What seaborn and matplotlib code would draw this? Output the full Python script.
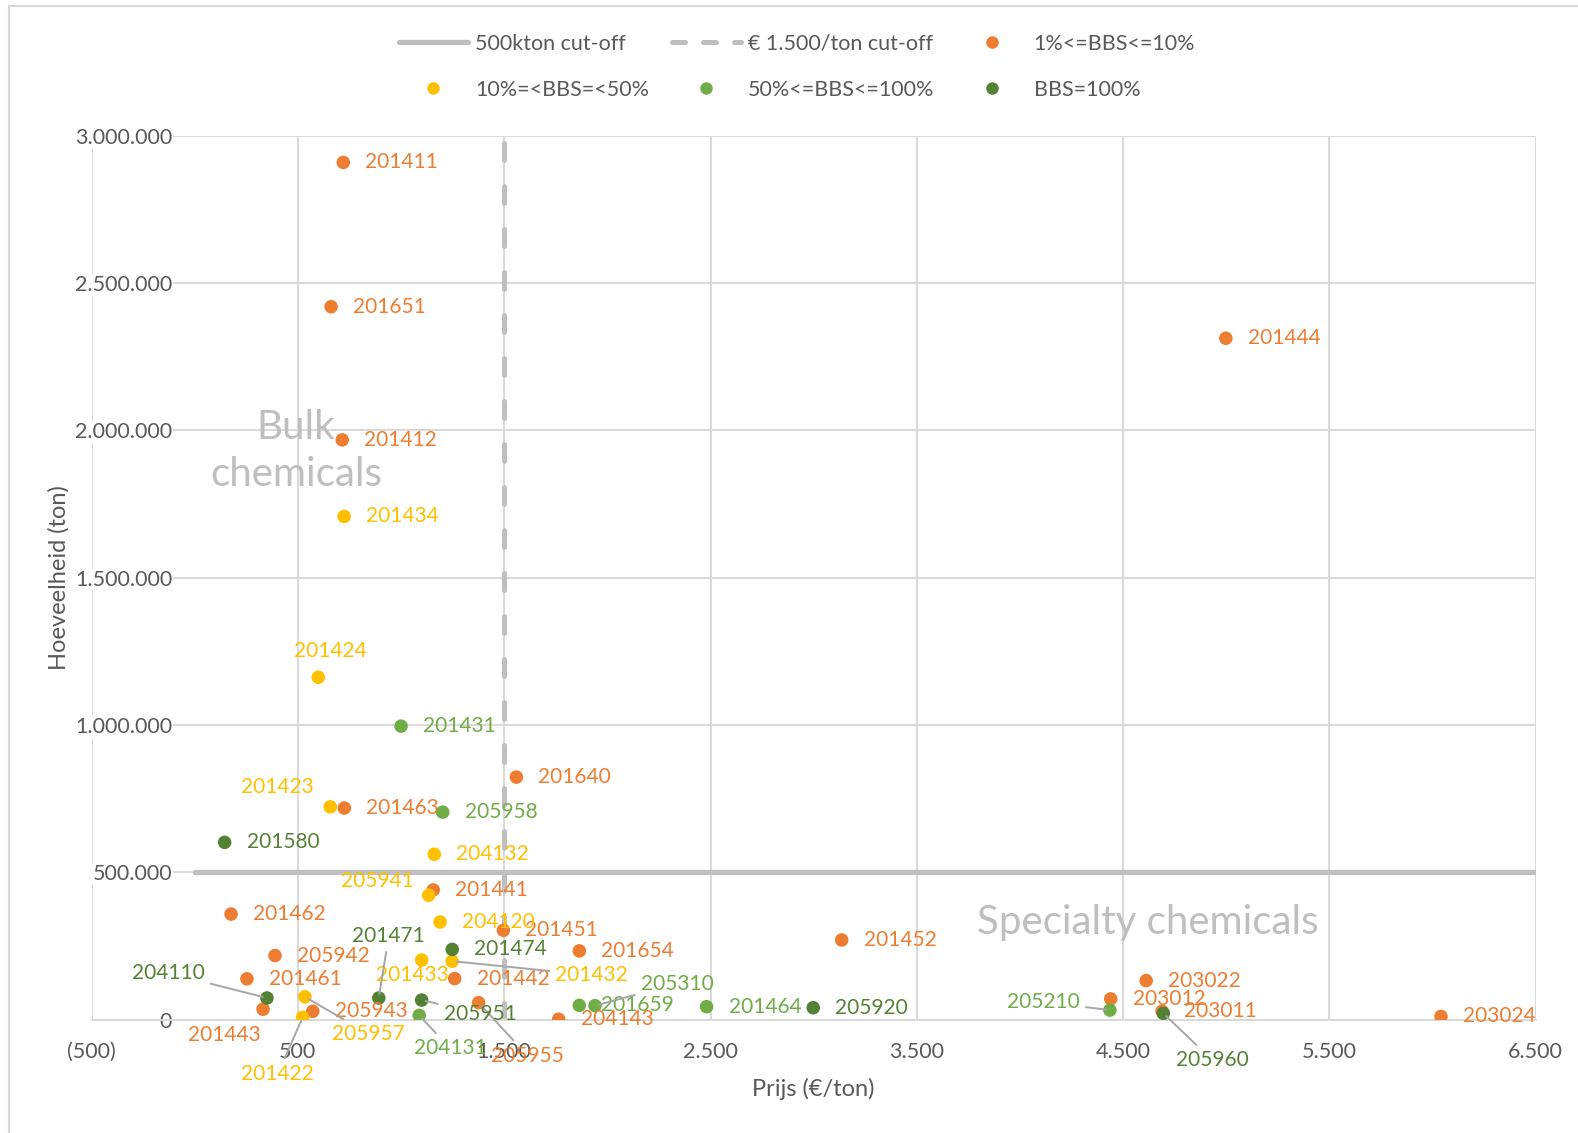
import numpy as np
import pandas as pd
import matplotlib
matplotlib.use("Agg")
import matplotlib.pyplot as plt
from matplotlib.lines import Line2D
from matplotlib.patches import Rectangle
import seaborn as sns

# ---------------- data ----------------
orange_labels = ["201411", "201651", "201412", "201444", "201640", "201463", "201441",
                 "201462", "205942", "201461", "201443", "205943", "201442", "205955",
                 "201451", "201654", "204143", "201452", "203022", "203012", "203011",
                 "203024"]
orange_price = [720, 661, 715, 4998, 1559, 725, 1156, 176, 389, 253, 331, 572, 1260,
                1376, 1496, 1864, 1764, 3136, 4612, 4440, 4689, 6041]
orange_qty = [2910000, 2420000, 1968000, 2313000, 823000, 718000, 440000, 358000,
              217000, 138000, 35000, 28000, 139000, 57000, 303000, 233000, 1000,
              270000, 132000, 70000, 28000, 10500]

yellow_labels = ["201434", "201424", "201423", "204132", "205941", "204120", "201433",
                 "201432", "205957", "201422"]
yellow_price = [724, 599, 657, 1161, 1134, 1189, 1100, 1248, 534, 523]
yellow_qty = [1708000, 1162000, 722000, 561000, 422000, 331000, 202000, 198000,
              77000, 7500]

green_labels = ["201431", "205958", "204131", "201659", "205310", "201464", "205210"]
green_price = [1000, 1202, 1088, 1864, 1940, 2481, 4436]
green_qty = [996000, 704000, 14000, 48000, 47000, 43500, 32000]

dgreen_labels = ["201580", "201474", "201471", "204110", "205951", "205920", "205960"]
dgreen_price = [145, 1248, 892, 350, 1100, 2998, 4695]
dgreen_qty = [601500, 238000, 73000, 73000, 66000, 40000, 21000]

series_names = ["1%<=BBS<=10%", "10%=<BBS=<50%", "50%<=BBS<=100%", "BBS=100%"]
series_colors = ["#ED7D31", "#FFC000", "#70AD47", "#548235"]

qty_cutoff = 500000
price_cutoff = 1500

x_ticks = [-500, 500, 1500, 2500, 3500, 4500, 5500, 6500]
y_ticks = [0, 500000, 1000000, 1500000, 2000000, 2500000, 3000000]

# label placement: offset in pixels (dx, dy image-down), ha, leader
label_style = {
    "201443": (-39, 26, "center", False),
    "205955": (49, 53, "center", True),
    "201424": (12, -26, "center", False),
    "201423": (-53, -20, "center", False),
    "205941": (-51, -14, "center", False),
    "201433": (-9, 15, "center", False),
    "201432": (103, 14, "left", True),
    "205957": (27, 37, "left", True),
    "201422": (-25, 57, "center", True),
    "204131": (31, 33, "center", True),
    "205310": (46, -22, "left", True),
    "205210": (-30, -8, "right", True),
    "201471": (10, -62, "center", True),
    "204110": (-62, -25, "right", True),
    "205951": (22, 14, "left", True),
    "205960": (49, 47, "center", True),
}

frames = []
for name, labs, px, qy in [
    (series_names[0], orange_labels, orange_price, orange_qty),
    (series_names[1], yellow_labels, yellow_price, yellow_qty),
    (series_names[2], green_labels, green_price, green_qty),
    (series_names[3], dgreen_labels, dgreen_price, dgreen_qty),
]:
    frames.append(pd.DataFrame({"label": labs, "price": px, "qty": qy, "series": name}))
df = pd.concat(frames, ignore_index=True)
palette = dict(zip(series_names, series_colors))

# ---------------- figure ----------------
sns.set_theme(style="white")
plt.rcParams["font.family"] = ["Lato", "DejaVu Sans"]

W, H = 1578, 1133
fig = plt.figure(figsize=(W / 100, H / 100), dpi=100)
ax = fig.add_axes([91.6 / W, 1 - 1019.5 / H, (1535.7 - 91.6) / W, (1019.5 - 135.9) / H])

grid_c = "#D9D9D9"
text_c = "#595959"
cut_c = "#BFBFBF"

# cut-off lines
ax.plot([0, 6500], [qty_cutoff, qty_cutoff], color=cut_c, lw=3.8,
        solid_capstyle="round", zorder=2)
ax.plot([price_cutoff, price_cutoff], [0, 3000000], color=cut_c, lw=3.6,
        dashes=(3.4, 5.2), dash_capstyle="round", zorder=2)

sns.scatterplot(data=df, x="price", y="qty", hue="series", palette=palette,
                s=95, edgecolor="none", legend=False, ax=ax, zorder=3)

# data labels
for _, r in df.iterrows():
    c = palette[r["series"]]
    dx, dy, ha, leader = label_style.get(r["label"], (22, 0, "left", False))
    kw = {}
    if leader:
        kw["arrowprops"] = dict(arrowstyle="-", color="#A6A6A6", lw=1.4,
                                shrinkA=2, shrinkB=3)
    ax.annotate(r["label"], (r["price"], r["qty"]), xytext=(dx, -dy),
                textcoords="offset pixels", ha=ha, va="center", fontsize=15,
                color=c, zorder=4, **kw)

# region texts
ax.text(490, 1930000, "Bulk\nchemicals", ha="center", va="center", fontsize=29,
        color=cut_c, linespacing=1.35, zorder=1.5)
ax.text(4622, 328000, "Specialty chemicals", ha="center", va="center", fontsize=29,
        color=cut_c, zorder=1.5)

# axes
ax.set_xlim(-500, 6500)
ax.set_ylim(0, 3000000)
ax.set_xticks(x_ticks)
ax.set_yticks(y_ticks)


def fmt_x(v):
    s = f"{abs(int(v)):,}".replace(",", ".")
    return f"({s})" if v < 0 else s


ax.set_xticklabels([fmt_x(v) for v in x_ticks])
ax.set_yticklabels([f"{int(v):,}".replace(",", ".") for v in y_ticks])
ax.grid(True, color=grid_c, lw=1.4)
ax.set_axisbelow(True)
for s in ["top", "right", "left"]:
    ax.spines[s].set_visible(False)
ax.spines["bottom"].set_color(grid_c)
ax.spines["bottom"].set_linewidth(1.4)
ax.tick_params(axis="x", length=0, pad=16, labelsize=15.5, labelcolor=text_c)
ax.tick_params(axis="y", length=0, pad=-58, labelsize=15.5, labelcolor=text_c)
for lbl in ax.get_yticklabels():
    lbl.set_bbox(dict(facecolor="white", edgecolor="none", pad=0.5))
    lbl.set_zorder(5)

ax.set_xlabel("Prijs (€/ton)", fontsize=17, color=text_c, labelpad=12)
ax.set_ylabel("Hoeveelheid (ton)", fontsize=17, color=text_c, labelpad=4)

# legend (column-major fill)
h_solid = Line2D([], [], color=cut_c, lw=3.8, solid_capstyle="round")
h_dash = Line2D([], [], color=cut_c, lw=3.6, dashes=(2.6, 3.6), dash_capstyle="round")
h_pts = [Line2D([], [], ls="none", marker="o", markersize=9, color=c,
                markeredgecolor="none") for c in series_colors]
handles = [h_solid, h_pts[1], h_dash, h_pts[2], h_pts[0], h_pts[3]]
labels = ["500kton cut-off", series_names[1], "€ 1.500/ton cut-off", series_names[2],
          series_names[0], series_names[3]]
leg = fig.legend(handles, labels, loc="center", bbox_to_anchor=(0.505, 0.941), ncol=3,
                 frameon=False, fontsize=15.5, handlelength=3.2, handletextpad=0.35,
                 columnspacing=1.05, labelspacing=1.2)
for t in leg.get_texts():
    t.set_color(text_c)

# chart border
fig.patches.append(Rectangle((9 / W, -0.1), 1.2, 1 - 6 / H + 0.1,
                             transform=fig.transFigure, fill=False,
                             edgecolor=grid_c, lw=1.5))

fig.savefig("out.png", dpi=100)
